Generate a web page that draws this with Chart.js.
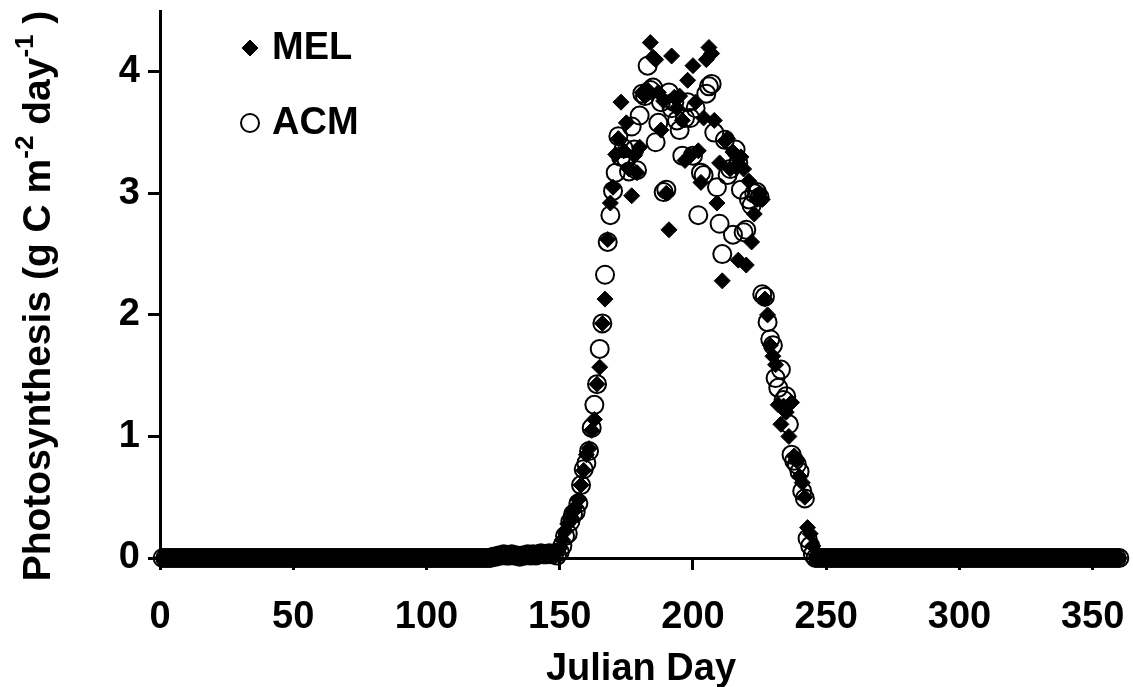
<!DOCTYPE html>
<html>
<head>
<meta charset="utf-8">
<script src="https://cdn.jsdelivr.net/npm/chart.js@4.4.1/dist/chart.umd.min.js"></script>
<style>
  html, body { margin: 0; padding: 0; background: #fff; }
  #wrap { width: 1133px; height: 687px; }
</style>
</head>
<body>
<div id="wrap"><canvas id="photoChart" width="1133" height="687"></canvas></div>
<script>
// one value per day, starting at day 1
const firstDay = 1;

const melValues = [
  // days 1-120
  0,0,0,0,0,0,0,0,0,0, 0,0,0,0,0,0,0,0,0,0, 0,0,0,0,0,0,0,0,0,0,
  0,0,0,0,0,0,0,0,0,0, 0,0,0,0,0,0,0,0,0,0, 0,0,0,0,0,0,0,0,0,0,
  0,0,0,0,0,0,0,0,0,0, 0,0,0,0,0,0,0,0,0,0, 0,0,0,0,0,0,0,0,0,0,
  0,0,0,0,0,0,0,0,0,0, 0,0,0,0,0,0,0,0,0,0, 0,0,0,0,0,0,0,0,0,0,
  // days 121-250
  0,0,0,0,0.01,0.02,0.02,0.03,0.02,0.04,
  0.03,0.02,0.03,0.02,0.01,0.02,0.03,0.04,0.03,0.02,
  0.03,0.04,0.05,0.03,0.04,0.05,0.04,0.06,0.05,0.08,
  0.15,0.22,0.28,0.32,0.38,0.42,0.48,0.6,0.72,0.85,
  0.9,1.05,1.14,1.43,1.57,1.93,2.13,2.62,2.92,3.05,
  3.32,3.45,3.75,3.35,3.58,3.2,2.98,3.31,3.17,3.38,
  3.83,3.8,3.85,4.24,4.12,4.1,3.83,3.52,3.76,3.0,
  2.7,4.13,3.79,3.7,3.8,3.6,3.27,3.93,3.31,4.05,
  3.75,3.35,3.09,3.62,4.1,4.2,4.15,3.6,2.92,3.25,
  2.28,3.43,3.45,3.2,3.34,3.22,2.45,3.3,3.2,2.41,
  3.1,2.6,2.83,2.95,3.0,2.95,2.13,2.0,1.75,1.66,
  1.59,1.26,1.1,1.25,1.2,1.0,1.28,0.84,0.8,0.67,
  0.62,0.5,0.25,0.2,0.1,0,0,0,0,0,
  // days 251-360
  0,0,0,0,0,0,0,0,0,0, 0,0,0,0,0,0,0,0,0,0, 0,0,0,0,0,0,0,0,0,0,
  0,0,0,0,0,0,0,0,0,0, 0,0,0,0,0,0,0,0,0,0, 0,0,0,0,0,0,0,0,0,0,
  0,0,0,0,0,0,0,0,0,0, 0,0,0,0,0,0,0,0,0,0, 0,0,0,0,0,0,0,0,0,0,
  0,0,0,0,0,0,0,0,0,0, 0,0,0,0,0,0,0,0,0,0
];

const acmValues = [
  // days 1-120
  0,0,0,0,0,0,0,0,0,0, 0,0,0,0,0,0,0,0,0,0, 0,0,0,0,0,0,0,0,0,0,
  0,0,0,0,0,0,0,0,0,0, 0,0,0,0,0,0,0,0,0,0, 0,0,0,0,0,0,0,0,0,0,
  0,0,0,0,0,0,0,0,0,0, 0,0,0,0,0,0,0,0,0,0, 0,0,0,0,0,0,0,0,0,0,
  0,0,0,0,0,0,0,0,0,0, 0,0,0,0,0,0,0,0,0,0, 0,0,0,0,0,0,0,0,0,0,
  // days 121-250
  0,0,0,0,0.01,0.01,0.02,0.02,0.03,0.02,
  0.02,0.03,0.02,0.02,0.01,0.02,0.02,0.03,0.02,0.03,
  0.02,0.03,0.04,0.03,0.03,0.04,0.03,0.04,0.02,0.05,
  0.1,0.18,0.2,0.3,0.36,0.38,0.45,0.6,0.73,0.78,
  0.88,1.07,1.26,1.43,1.72,1.93,2.33,2.6,2.82,3.02,
  3.17,3.47,3.3,3.37,3.28,3.18,3.55,3.36,3.19,3.64,
  3.82,3.8,4.05,3.85,3.87,3.42,3.58,3.75,3.01,3.03,
  3.83,3.7,3.75,3.6,3.52,3.31,3.62,3.75,3.62,3.31,
  3.7,2.82,3.17,3.15,3.82,3.88,3.9,3.5,3.05,2.75,
  2.5,3.44,3.15,3.2,2.66,3.36,3.25,3.03,2.68,2.7,
  2.95,2.9,3.0,3.01,2.97,2.17,2.15,1.94,1.8,1.75,
  1.48,1.4,1.55,1.3,1.33,1.1,0.85,0.8,0.77,0.71,
  0.55,0.49,0.16,0.1,0.03,0,0,0,0,0,
  // days 251-360
  0,0,0,0,0,0,0,0,0,0, 0,0,0,0,0,0,0,0,0,0, 0,0,0,0,0,0,0,0,0,0,
  0,0,0,0,0,0,0,0,0,0, 0,0,0,0,0,0,0,0,0,0, 0,0,0,0,0,0,0,0,0,0,
  0,0,0,0,0,0,0,0,0,0, 0,0,0,0,0,0,0,0,0,0, 0,0,0,0,0,0,0,0,0,0,
  0,0,0,0,0,0,0,0,0,0, 0,0,0,0,0,0,0,0,0,0
];

const xTicks = [0, 50, 100, 150, 200, 250, 300, 350];
const yTicks = [0, 1, 2, 3, 4];
const seriesNames = ['MEL', 'ACM'];
const xTitle = 'Julian Day';
// [text, isSuperscript]
const yTitleParts = [['Photosynthesis (g C m', false], ['-2', true], [' day', false], ['-1', true], [' )', false]];

const FONT = "'Liberation Sans', Arial, sans-serif";

const toPoints = vals => vals.map((v, i) => ({ x: firstDay + i, y: v }));

// legend + y title with superscripts, drawn by hand
const decor = {
    id: 'decor',
    afterDraw(chart) {
        const ctx = chart.ctx;
        ctx.save();

        // legend
        const items = [
            { y: 48, ds: chart.data.datasets[0] },
            { y: 123, ds: chart.data.datasets[1] }
        ];
        items.forEach(it => {
            ctx.fillStyle = it.ds.pointBackgroundColor;
            ctx.strokeStyle = it.ds.pointBorderColor;
            ctx.lineWidth = it.ds.pointBorderWidth;
            Chart.helpers.drawPoint(ctx, {
                pointStyle: it.ds.pointStyle, radius: it.ds.pointRadius,
                rotation: 0, borderWidth: it.ds.pointBorderWidth
            }, 250, it.y);
            ctx.fillStyle = '#000';
            ctx.font = 'bold 38px ' + FONT;
            ctx.textAlign = 'left';
            ctx.textBaseline = 'middle';
            ctx.fillText(it.ds.label, 272, it.y + 1);
        });

        // y axis title
        const big = 'bold 39px ' + FONT;
        const small = 'bold 26px ' + FONT;
        let total = 0;
        yTitleParts.forEach(p => {
            ctx.font = p[1] ? small : big;
            total += ctx.measureText(p[0]).width;
        });
        ctx.translate(50, 296);
        ctx.rotate(-Math.PI / 2);
        ctx.textAlign = 'left';
        ctx.textBaseline = 'alphabetic';
        ctx.fillStyle = '#000';
        let x = -total / 2;
        yTitleParts.forEach(p => {
            ctx.font = p[1] ? small : big;
            ctx.fillText(p[0], x, p[1] ? -17 : 0);
            x += ctx.measureText(p[0]).width;
        });
        ctx.restore();
    }
};

new Chart(document.getElementById('photoChart'), {
    type: 'scatter',
    data: {
        datasets: [{
            label: seriesNames[0],
            data: toPoints(melValues),
            pointStyle: 'rectRot',
            pointRadius: 8,
            pointBackgroundColor: '#000',
            pointBorderColor: '#000',
            pointBorderWidth: 1,
            clip: false
        }, {
            label: seriesNames[1],
            data: toPoints(acmValues),
            pointStyle: 'circle',
            pointRadius: 9,
            pointBackgroundColor: 'rgba(255,255,255,0)',
            pointBorderColor: '#000',
            pointBorderWidth: 2,
            clip: false
        }]
    },
    options: {
        responsive: false,
        animation: false,
        events: [],
        layout: { padding: { top: 7, right: 0, bottom: 0, left: 0 } },
        plugins: {
            legend: { display: false },
            tooltip: { enabled: false }
        },
        scales: {
            x: {
                type: 'linear',
                min: 0,
                max: 361,
                afterBuildTicks: s => { s.ticks = xTicks.map(v => ({ value: v })); },
                afterFit: s => { s.height = 129; s.paddingLeft = 0; s.paddingRight = 0; },
                border: { display: true, color: '#000', width: 3 },
                grid: { display: true, drawOnChartArea: false, drawTicks: true, tickLength: 12, color: '#000', lineWidth: 3 },
                ticks: { color: '#000', padding: 25, maxRotation: 0, font: { family: FONT, size: 38, weight: 'bold' } },
                title: {
                    display: true, text: xTitle, color: '#000', padding: 0,
                    font: { family: FONT, size: 38, weight: 'bold', lineHeight: 0.9 }
                }
            },
            y: {
                type: 'linear',
                min: 0,
                max: 4.5,
                afterBuildTicks: s => { s.ticks = yTicks.map(v => ({ value: v })); },
                afterFit: s => { s.width = 160; s.paddingTop = 0; s.paddingBottom = 0; },
                border: { display: true, color: '#000', width: 3 },
                grid: { display: true, drawOnChartArea: false, drawTicks: true, tickLength: 12, color: '#000', lineWidth: 3 },
                ticks: { color: '#000', padding: 8, font: { family: FONT, size: 38, weight: 'bold' } }
            }
        }
    },
    plugins: [decor]
});
</script>
</body>
</html>
